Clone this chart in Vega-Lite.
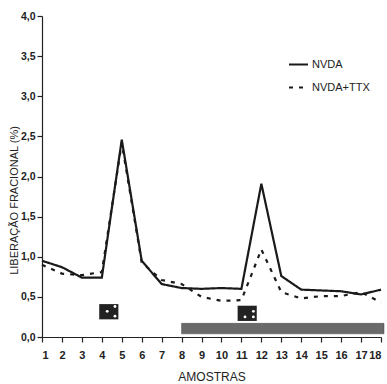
{
  "$schema": "https://vega.github.io/schema/vega-lite/v6.json",
  "width": 339,
  "height": 321,
  "autosize": {"type": "none"},
  "padding": {"left": 42, "top": 16, "right": 6, "bottom": 47},
  "background": "white",
  "config": {"view": {"stroke": null}},
  "datasets": {
    "series": [
      {"x": 1, "y": 0.95, "serie": "NVDA"},
      {"x": 2, "y": 0.87, "serie": "NVDA"},
      {"x": 3, "y": 0.74, "serie": "NVDA"},
      {"x": 4, "y": 0.74, "serie": "NVDA"},
      {"x": 5, "y": 2.46, "serie": "NVDA"},
      {"x": 6, "y": 0.95, "serie": "NVDA"},
      {"x": 7, "y": 0.66, "serie": "NVDA"},
      {"x": 8, "y": 0.61, "serie": "NVDA"},
      {"x": 9, "y": 0.60, "serie": "NVDA"},
      {"x": 10, "y": 0.61, "serie": "NVDA"},
      {"x": 11, "y": 0.60, "serie": "NVDA"},
      {"x": 12, "y": 1.91, "serie": "NVDA"},
      {"x": 13, "y": 0.76, "serie": "NVDA"},
      {"x": 14, "y": 0.59, "serie": "NVDA"},
      {"x": 15, "y": 0.58, "serie": "NVDA"},
      {"x": 16, "y": 0.57, "serie": "NVDA"},
      {"x": 17, "y": 0.53, "serie": "NVDA"},
      {"x": 18, "y": 0.59, "serie": "NVDA"},
      {"x": 1, "y": 0.90, "serie": "NVDA+TTX"},
      {"x": 2, "y": 0.79, "serie": "NVDA+TTX"},
      {"x": 3, "y": 0.77, "serie": "NVDA+TTX"},
      {"x": 4, "y": 0.81, "serie": "NVDA+TTX"},
      {"x": 5, "y": 2.42, "serie": "NVDA+TTX"},
      {"x": 6, "y": 0.93, "serie": "NVDA+TTX"},
      {"x": 7, "y": 0.71, "serie": "NVDA+TTX"},
      {"x": 8, "y": 0.66, "serie": "NVDA+TTX"},
      {"x": 9, "y": 0.50, "serie": "NVDA+TTX"},
      {"x": 10, "y": 0.45, "serie": "NVDA+TTX"},
      {"x": 11, "y": 0.46, "serie": "NVDA+TTX"},
      {"x": 12, "y": 1.09, "serie": "NVDA+TTX"},
      {"x": 13, "y": 0.56, "serie": "NVDA+TTX"},
      {"x": 14, "y": 0.48, "serie": "NVDA+TTX"},
      {"x": 15, "y": 0.51, "serie": "NVDA+TTX"},
      {"x": 16, "y": 0.51, "serie": "NVDA+TTX"},
      {"x": 17, "y": 0.56, "serie": "NVDA+TTX"},
      {"x": 18, "y": 0.43, "serie": "NVDA+TTX"}
    ],
    "blocks": [
      {"x": 3.87, "x2": 4.83, "y": 0.22, "y2": 0.41, "tipo": "estimulo"},
      {"x": 10.81, "x2": 11.77, "y": 0.20, "y2": 0.39, "tipo": "estimulo"}
    ],
    "bar": [
      {"x": 8.0, "x2": 18.15, "y": 0.04, "y2": 0.17, "tipo": "TTX"}
    ],
    "dots": [
      {"x": 4.27, "y": 0.32},
      {"x": 4.66, "y": 0.38},
      {"x": 4.66, "y": 0.26},
      {"x": 11.18, "y": 0.25},
      {"x": 11.6, "y": 0.32},
      {"x": 11.6, "y": 0.25}
    ]
  },
  "encoding": {
    "x": {
      "field": "x",
      "type": "quantitative",
      "scale": {"domain": [1, 18], "nice": false, "zero": false},
      "axis": {
        "title": "AMOSTRAS",
        "values": [1, 2, 3, 4, 5, 6, 7, 8, 9, 10, 11, 12, 13, 14, 15, 16, 17, 18],
        "format": "d",
        "grid": false,
        "domainColor": "#222",
        "domainWidth": 1.2,
        "tickColor": "#222",
        "tickWidth": 1.2,
        "tickSize": 5,
        "labelPadding": 7,
        "labelFont": "Liberation Sans",
        "labelFontSize": 11,
        "labelFontWeight": "bold",
        "labelColor": "#222",
        "titleFont": "Liberation Sans",
        "titleFontSize": 12,
        "titleFontWeight": "normal",
        "titleColor": "#222",
        "titlePadding": 11
      }
    },
    "y": {
      "field": "y",
      "type": "quantitative",
      "scale": {"domain": [0, 4], "nice": false},
      "axis": {
        "title": "LIBERAÇÃO FRACIONAL (%)",
        "values": [0, 0.5, 1, 1.5, 2, 2.5, 3, 3.5, 4],
        "labelExpr": "replace(format(datum.value, '.1f'), '.', ',')",
        "grid": false,
        "domainColor": "#222",
        "domainWidth": 1.2,
        "tickColor": "#222",
        "tickWidth": 1.2,
        "tickSize": 5,
        "labelPadding": 2,
        "labelFont": "Liberation Sans",
        "labelFontSize": 10.5,
        "labelFontWeight": "bold",
        "labelColor": "#222",
        "titleFont": "Liberation Sans",
        "titleFontSize": 11,
        "titleFontWeight": "normal",
        "titleColor": "#222",
        "titleX": -28,
        "titleY": 184,
        "titleAngle": 270,
        "titleBaseline": "middle"
      }
    }
  },
  "layer": [
    {
      "data": {"name": "bar"},
      "mark": {"type": "rect", "fill": "#6a6a6a", "stroke": "#444444", "strokeWidth": 0.5},
      "encoding": {"x2": {"field": "x2"}, "y2": {"field": "y2"}}
    },
    {
      "data": {"name": "blocks"},
      "mark": {"type": "rect", "fill": "#222222"},
      "encoding": {"x2": {"field": "x2"}, "y2": {"field": "y2"}}
    },
    {
      "data": {"name": "dots"},
      "mark": {"type": "point", "filled": true, "fill": "white", "size": 8, "opacity": 1}
    },
    {
      "data": {"name": "series"},
      "mark": {"type": "line", "color": "#1a1a1a", "strokeWidth": 2.2},
      "encoding": {
        "strokeDash": {
          "field": "serie",
          "type": "nominal",
          "scale": {"domain": ["NVDA", "NVDA+TTX"], "range": [[1, 0], [4, 6]]},
          "legend": {
            "orient": "none",
            "legendX": 246,
            "legendY": 38,
            "title": null,
            "symbolType": "stroke",
            "symbolSize": 361,
            "symbolStrokeWidth": 2,
            "symbolStrokeColor": "#1a1a1a",
            "labelFont": "Liberation Sans",
            "labelFontSize": 11,
            "labelColor": "#222",
            "labelOffset": 3,
            "rowPadding": 7
          }
        }
      }
    }
  ]
}
